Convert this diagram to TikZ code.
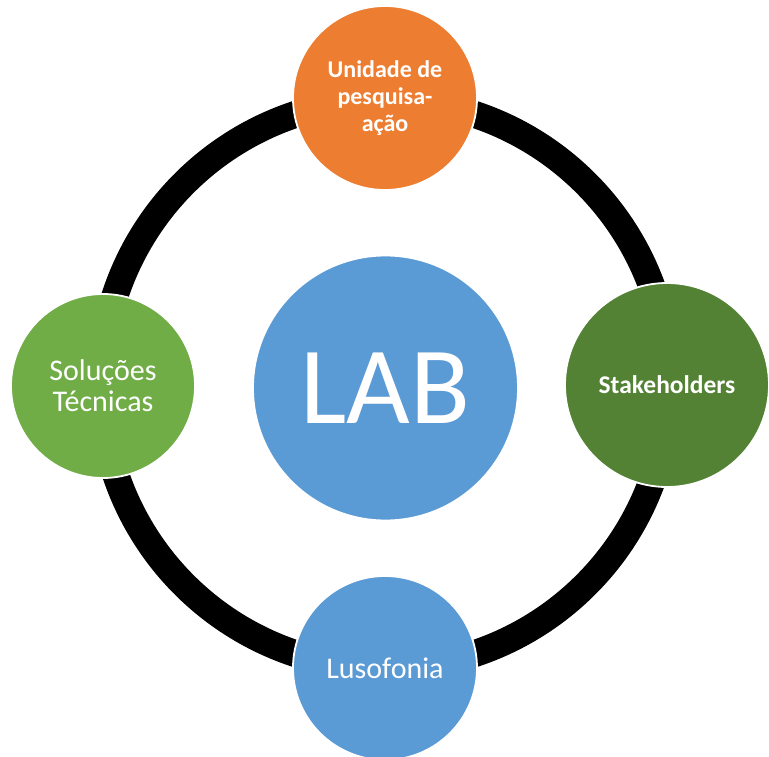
\documentclass[tikz,border=0pt]{standalone}
\usepackage{fontspec}
\setmainfont{Carlito}
\usepackage{xcolor}
\usetikzlibrary{positioning}
\definecolor{laborange}{HTML}{ED7D31}
\definecolor{labgreen}{HTML}{70AD47}
\definecolor{labdarkgreen}{HTML}{548235}
\definecolor{labblue}{HTML}{5B9BD5}
\tikzset{
  labring/.style={
    draw=black,
    line width=27pt
  },
  labcircle/.style={
    circle,
    draw=white,
    line width=1.8pt,
    text=white,
    align=center,
    inner sep=0pt,
    minimum size=184pt
  }
}

\begin{document}
\begin{tikzpicture}[x=1pt,y=-1pt]
  \useasboundingbox (0,0) rectangle (769,757);
  \coordinate (mid) at (385,384);
  \draw[labring] (mid) circle[radius=284];

  \node[labcircle, fill=laborange, font=\bfseries\fontsize{24}{27}\selectfont] (unidade) at (385,98) {Unidade de\\pesquisa-\\ação};
  \node[labcircle, fill=labdarkgreen, minimum size=204pt, font=\bfseries\fontsize{25.5}{28}\selectfont] (stake) at (667,385) {Stakeholders};
  \node[labcircle, fill=labblue, font=\fontsize{30}{32}\selectfont] (luso) at (385,668) {Lusofonia};
  \node[labcircle, fill=labgreen, font=\fontsize{30}{31}\selectfont] (solucoes) at (103,386) {Soluções\\Técnicas};
  \node[labcircle, fill=labblue, minimum size=265pt, font=\fontsize{110}{120}\selectfont] (lab) at (385.5,388) {LAB};
\end{tikzpicture}
\end{document}
